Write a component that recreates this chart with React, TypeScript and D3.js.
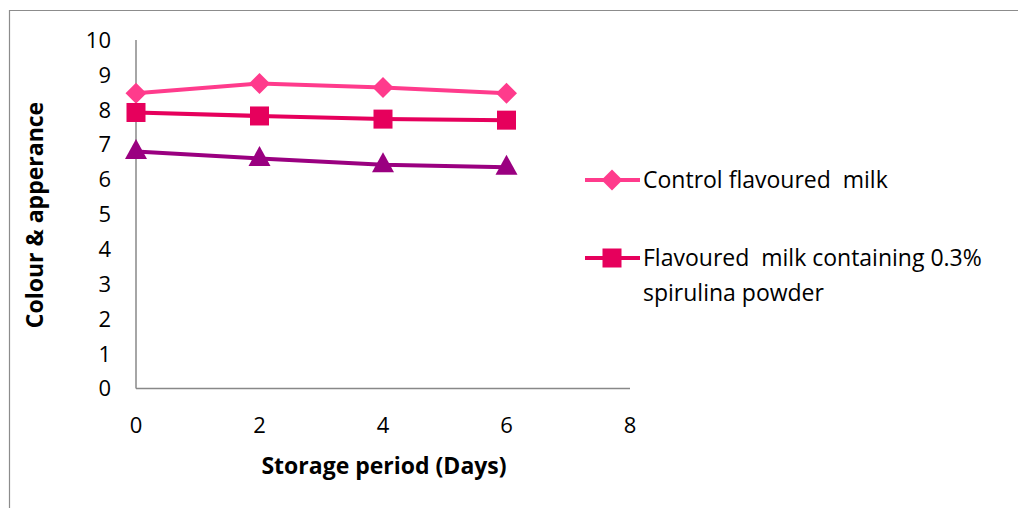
import React from "react";
import * as d3 from "d3";

// Storage days and sensory scores for colour & appearance
const days = [0, 2, 4, 6];
const controlMilk = [8.47, 8.75, 8.64, 8.47];
const spirulina03 = [7.92, 7.82, 7.73, 7.7];
const spirulina05 = [6.8, 6.6, 6.42, 6.35];
const xTicks = [0, 2, 4, 6, 8];
const yTicks = [0, 1, 2, 3, 4, 5, 6, 7, 8, 9, 10];

const seriesNames = [
  "Control flavoured  milk",
  "Flavoured  milk containing 0.3% spirulina powder",
  "Flavoured  milk containing 0.5% spirulina powder",
];
const seriesColors = ["#FF3B8C", "#E6005C", "#9A0080"];
const seriesShapes = ["diamond", "square", "triangle"];

const W = 1018;
const H = 508;
const FONT = "'Open Sans', Lato, sans-serif";

function Marker({ shape, x, y, color }: { shape: string; x: number; y: number; color: string }) {
  if (shape === "diamond") {
    const r = 10.5;
    return <path d={`M${x},${y - r}L${x + r},${y}L${x},${y + r}L${x - r},${y}Z`} fill={color} />;
  }
  if (shape === "square") {
    const s = 19;
    return <rect x={x - s / 2} y={y - s / 2} width={s} height={s} fill={color} />;
  }
  const w = 22;
  const h = 20;
  return <path d={`M${x},${y - h * 0.62}L${x + w / 2},${y + h * 0.38}L${x - w / 2},${y + h * 0.38}Z`} fill={color} />;
}

export default function App() {
  const x = d3.scaleLinear().domain([0, 8]).range([136, 630]);
  const y = d3.scaleLinear().domain([0, 10]).range([388.5, 40]);
  const line = d3
    .line<[number, number]>()
    .x((d) => x(d[0]))
    .y((d) => y(d[1]));

  const data = [controlMilk, spirulina03, spirulina05];

  return (
    <svg
      width={W}
      height={H}
      style={{ position: "fixed", left: 0, top: 0, background: "#fff" }}
      fontFamily={FONT}
    >
      <rect x={0} y={0} width={W} height={H} fill="#fff" />
      {/* chart frame, running off the right and bottom edges */}
      <path d={`M9.5,${H + 2}V10.5H${W + 2}`} fill="none" stroke="#8c8c8c" strokeWidth={1.2} />

      {/* axes */}
      <line x1={x(0)} x2={x(0)} y1={y(10)} y2={y(0)} stroke="#888" strokeWidth={1.5} />
      <line x1={x(0)} x2={x(8)} y1={y(0)} y2={y(0)} stroke="#888" strokeWidth={1.5} />

      {yTicks.map((t) => (
        <text key={t} x={111} y={y(t)} dy="0.36em" textAnchor="end" fontSize={22} fill="#000">
          {t}
        </text>
      ))}
      {xTicks.map((t) => (
        <text key={t} x={x(t)} y={425} dy="0.36em" textAnchor="middle" fontSize={22} fill="#000">
          {t}
        </text>
      ))}

      <text x={384} y={466} dy="0.36em" textAnchor="middle" fontSize={23} fontWeight="bold" fill="#000">
        Storage period (Days)
      </text>
      <text
        transform={`translate(35,215) rotate(-90)`}
        dy="0.36em"
        textAnchor="middle"
        fontSize={23}
        fontWeight="bold"
        fill="#000"
      >
        Colour &amp; apperance
      </text>

      {data.map((vals, i) => {
        const pts = days.map((d, j) => [d, vals[j]] as [number, number]);
        return (
          <g key={i}>
            <path d={line(pts) ?? ""} fill="none" stroke={seriesColors[i]} strokeWidth={4} />
            {pts.map((p, j) => (
              <Marker key={j} shape={seriesShapes[i]} x={x(p[0])} y={y(p[1])} color={seriesColors[i]} />
            ))}
          </g>
        );
      })}

      {/* legend */}
      <g>
        <line x1={585} x2={640} y1={180} y2={180} stroke={seriesColors[0]} strokeWidth={4} />
        <Marker shape="diamond" x={612} y={180} color={seriesColors[0]} />
        <text x={643} y={180} dy="0.36em" fontSize={23} fill="#000" style={{ whiteSpace: "pre" }}>
          {seriesNames[0]}
        </text>
        <line x1={585} x2={640} y1={258} y2={258} stroke={seriesColors[1]} strokeWidth={4} />
        <Marker shape="square" x={612} y={258} color={seriesColors[1]} />
        <text x={643} y={258} dy="0.36em" fontSize={23} fill="#000" style={{ whiteSpace: "pre" }}>
          Flavoured  milk containing 0.3%
        </text>
        <text x={643} y={293} dy="0.36em" fontSize={23} fill="#000">
          spirulina powder
        </text>
      </g>
    </svg>
  );
}
